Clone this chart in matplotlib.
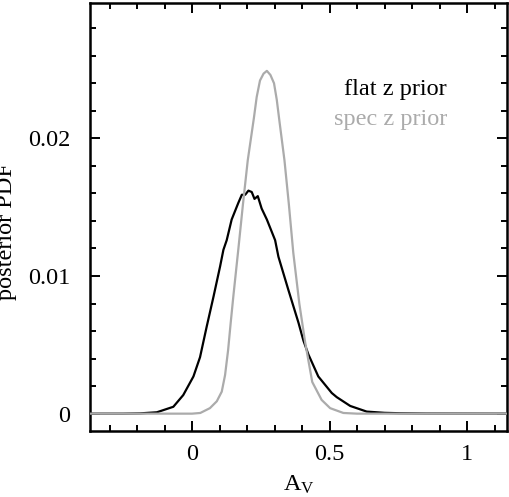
import matplotlib
matplotlib.use("Agg")
import matplotlib.pyplot as plt
from matplotlib import font_manager
from matplotlib.ticker import MultipleLocator

serif_name = None
for f in font_manager.fontManager.ttflist:
    if 'Liberation Serif' in f.name:
        serif_name = f.name
        break
if serif_name is None:
    import glob
    for p in glob.glob('/usr/share/fonts/**/LiberationSerif-Regular.ttf', recursive=True):
        font_manager.fontManager.addfont(p)
        serif_name = font_manager.FontProperties(fname=p).get_name()
        break
if serif_name is None:
    serif_name = 'DejaVu Serif'

plt.rcParams['font.family'] = [serif_name, 'DejaVu Serif']
plt.rcParams['mathtext.fontset'] = 'custom'
plt.rcParams['mathtext.rm'] = serif_name
plt.rcParams['mathtext.it'] = serif_name + ':italic'

# flat z prior (black)
flat_x = [-0.37, -0.25, -0.19, -0.128, -0.068, -0.032, 0.005, 0.029, 0.053, 0.078,
          0.102, 0.114, 0.126, 0.144, 0.156, 0.168, 0.181, 0.193, 0.205, 0.217,
          0.227, 0.239, 0.253, 0.272, 0.284, 0.302, 0.314, 0.35, 0.387, 0.405,
          0.423, 0.459, 0.508, 0.526, 0.575, 0.635, 0.7, 0.756, 0.85, 1.15]
flat_y = [0, 0, 0.00002, 0.0001, 0.0005, 0.00135, 0.0027, 0.0041, 0.0063, 0.0085,
          0.0107, 0.0119, 0.0126, 0.0141, 0.0147, 0.0153, 0.0159, 0.0159, 0.0162, 0.0161,
          0.0156, 0.0158, 0.0149, 0.0141, 0.0135, 0.0126, 0.0114, 0.0090, 0.0066, 0.0053,
          0.0043, 0.0027, 0.0015, 0.0012, 0.00056, 0.00015, 0.00006, 0.00003, 0.00001, 0]

# spec z prior (gray)
spec_x = [-0.37, 0.0, 0.03, 0.065, 0.09, 0.108, 0.12, 0.131, 0.14, 0.15, 0.168, 0.185,
          0.2025, 0.225, 0.235, 0.247, 0.26, 0.272, 0.285, 0.298, 0.308, 0.318, 0.336,
          0.352, 0.368, 0.39, 0.411, 0.437, 0.471, 0.502, 0.55, 0.6, 1.15]
spec_y = [0, 0, 0.00005, 0.0004, 0.0009, 0.0016, 0.0028, 0.0046, 0.0065, 0.0085, 0.0119, 0.0152,
          0.0184, 0.0215, 0.0230, 0.0242, 0.0247, 0.0249, 0.0246, 0.0240, 0.0228, 0.0212, 0.0184,
          0.0152, 0.0117, 0.0080, 0.0052, 0.0023, 0.0010, 0.0004, 0.00005, 0, 0]

xticks = [0, 0.5, 1]
xticklabels = ['0', '0.5', '1']
yticks = [0, 0.01, 0.02]
yticklabels = ['0', '0.01', '0.02']

fig = plt.figure(figsize=(5.09, 4.97), dpi=100)
ax = fig.add_axes([90/509, 1 - 431/497, (507 - 90)/509, (431 - 3)/497])

gray = '#ababab'
ax.plot(flat_x, flat_y, color='black', lw=1.6, zorder=2)
ax.plot(spec_x, spec_y, color=gray, lw=1.6, zorder=3)

ax.set_xlim(-0.371, 1.145)
ax.set_ylim(-0.00126, 0.02983)

ax.set_xticks(xticks)
ax.set_xticklabels(xticklabels)
ax.set_yticks(yticks)
ax.set_yticklabels(yticklabels)
ax.xaxis.set_minor_locator(MultipleLocator(0.1))
ax.yaxis.set_minor_locator(MultipleLocator(0.002))

ax.tick_params(which='both', direction='in', top=True, right=True, width=1.4,
               labelsize=17.5, colors='black')
ax.tick_params(which='major', length=7.5)
ax.tick_params(which='minor', length=4.3)
ax.tick_params(axis='y', which='major', pad=14)
ax.tick_params(axis='x', which='major', pad=9)

for s in ax.spines.values():
    s.set_linewidth(1.8)

ax.set_xlabel(r'$\mathrm{A_V}$', fontsize=17.5)
ax.xaxis.set_label_coords(0.5, -0.1)
ax.set_ylabel('posterior PDF', fontsize=17.5)
ax.yaxis.set_label_coords(-0.175, 0.465)

ax.text(0.856, 0.785, 'flat z prior', transform=ax.transAxes, ha='right',
        va='baseline', fontsize=17.5, color='black')
ax.text(0.856, 0.715, 'spec z prior', transform=ax.transAxes, ha='right',
        va='baseline', fontsize=17.5, color=gray)

fig.savefig('out.png', dpi=100)
